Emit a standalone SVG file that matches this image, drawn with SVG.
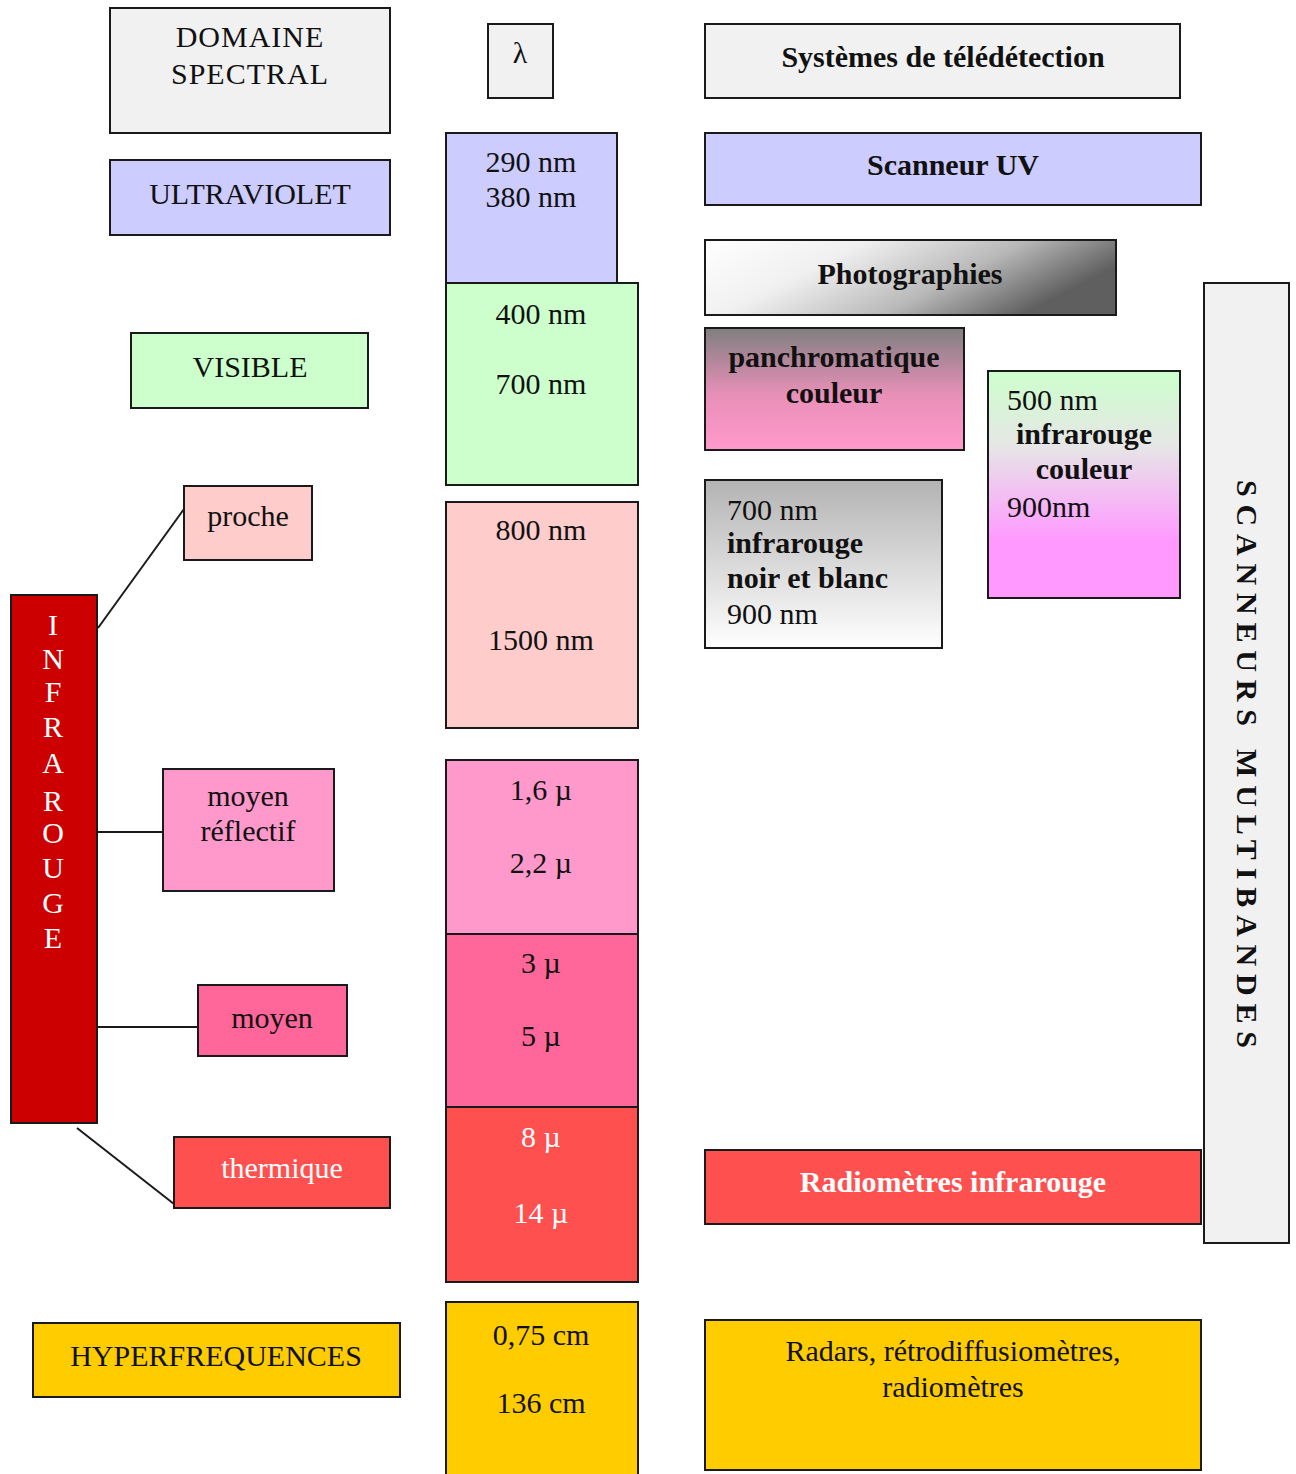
<svg xmlns="http://www.w3.org/2000/svg" width="1296" height="1474" viewBox="0 0 1296 1474">
<style>
  .box { stroke: #1a1a1a; stroke-width: 2; }
  text { font-family: "Liberation Serif", "Times New Roman", serif; font-size: 30px; fill: #111; }
  .c { text-anchor: middle; }
  .b { font-weight: bold; }
  .w { fill: #ffffff; }
  .link { stroke: #1a1a1a; stroke-width: 2; fill: none; }
  .marble { fill: #f1f1f1; }
  .uv { fill: #ccccff; }
  .vis { fill: #ccffcc; }
  .pir { fill: #ffcccc; }
  .mir { fill: #ff99cc; }
  .mid { fill: #ff6699; }
  .thr { fill: #ff5050; }
  .hyp { fill: #ffcc00; }
  .ir { fill: #cc0000; }
</style>
<defs>
  <linearGradient id="gPhoto" x1="0" y1="0" x2="1" y2="0.35">
    <stop offset="0" stop-color="#ffffff"/>
    <stop offset="0.35" stop-color="#f0f0f0"/>
    <stop offset="0.7" stop-color="#b8b8b8"/>
    <stop offset="1" stop-color="#5f5f5f"/>
  </linearGradient>
  <linearGradient id="gPan" x1="0" y1="0" x2="0" y2="1">
    <stop offset="0" stop-color="#7f7f7f"/>
    <stop offset="0.55" stop-color="#e890b8"/>
    <stop offset="1" stop-color="#ff99cc"/>
  </linearGradient>
  <linearGradient id="gIRC" x1="0" y1="0" x2="0" y2="1">
    <stop offset="0" stop-color="#ccffcc"/>
    <stop offset="0.33" stop-color="#e6e6e6"/>
    <stop offset="0.75" stop-color="#ff99ff"/>
    <stop offset="1" stop-color="#ff99ff"/>
  </linearGradient>
  <linearGradient id="gNB" x1="0" y1="0" x2="0" y2="1">
    <stop offset="0" stop-color="#b3b3b3"/>
    <stop offset="1" stop-color="#ffffff"/>
  </linearGradient>
</defs>
<rect width="1296" height="1474" fill="#ffffff"/>

<g id="connectors">
  <line class="link" x1="98" y1="628" x2="184" y2="509"/>
  <line class="link" x1="98" y1="832" x2="163" y2="832"/>
  <line class="link" x1="98" y1="1027" x2="198" y2="1027"/>
  <line class="link" x1="77" y1="1128" x2="174" y2="1204"/>
</g>

<g id="domaine-spectral">
  <rect class="box marble" x="110" y="8" width="280" height="125"/>
  <text class="c" x="250" y="47" letter-spacing="1">DOMAINE</text>
  <text class="c" x="250" y="84" letter-spacing="1">SPECTRAL</text>
</g>
<g id="lambda">
  <rect class="box marble" x="488" y="24" width="65" height="74"/>
  <text class="c" x="520" y="63" font-size="26">λ</text>
</g>
<g id="systemes">
  <rect class="box marble" x="705" y="24" width="475" height="74"/>
  <text class="c b" x="943" y="67">Systèmes de télédétection</text>
</g>

<g id="ultraviolet">
  <rect class="box uv" x="110" y="160" width="280" height="75"/>
  <text class="c" x="250" y="204">ULTRAVIOLET</text>
</g>
<g id="lambda-uv">
  <rect class="box uv" x="446" y="133" width="171" height="150"/>
  <text class="c" x="531" y="172">290 nm</text>
  <text class="c" x="531" y="207">380 nm</text>
</g>
<g id="scanneur-uv">
  <rect class="box uv" x="705" y="133" width="496" height="72"/>
  <text class="c b" x="953" y="175">Scanneur UV</text>
</g>

<g id="photographies">
  <rect class="box" fill="url(#gPhoto)" x="705" y="240" width="411" height="75"/>
  <text class="c b" x="910" y="284">Photographies</text>
</g>

<g id="visible">
  <rect class="box vis" x="131" y="333" width="237" height="75"/>
  <text class="c" x="250" y="377">VISIBLE</text>
</g>
<g id="lambda-visible">
  <rect class="box vis" x="446" y="283" width="192" height="202"/>
  <text class="c" x="541" y="324">400 nm</text>
  <text class="c" x="541" y="394">700 nm</text>
</g>

<g id="panchromatique">
  <rect class="box" fill="url(#gPan)" x="705" y="328" width="259" height="122"/>
  <text class="c b" x="834" y="367">panchromatique</text>
  <text class="c b" x="834" y="403">couleur</text>
</g>

<g id="infrarouge-couleur">
  <rect class="box" fill="url(#gIRC)" x="988" y="371" width="192" height="227"/>
  <text x="1007" y="410">500 nm</text>
  <text class="c b" x="1084" y="444">infrarouge</text>
  <text class="c b" x="1084" y="479">couleur</text>
  <text x="1007" y="517">900nm</text>
</g>

<g id="infrarouge-nb">
  <rect class="box" fill="url(#gNB)" x="705" y="480" width="237" height="168"/>
  <text x="727" y="520">700 nm</text>
  <text class="b" x="727" y="553">infrarouge</text>
  <text class="b" x="727" y="588">noir et blanc</text>
  <text x="727" y="624">900 nm</text>
</g>

<g id="scanneurs-multibandes">
  <rect class="box marble" x="1204" y="283" width="85" height="960"/>
  <text class="c b" x="0" y="0" font-size="26" dominant-baseline="central" textLength="568" lengthAdjust="spacing" transform="translate(1247 764) rotate(90)">SCANNEURS MULTIBANDES</text>
</g>

<g id="infrarouge">
  <rect class="box ir" x="11" y="595" width="86" height="528"/>
  <g class="c w" font-size="27">
    <text class="c w" x="53" y="635" font-size="27">I</text>
    <text class="c w" x="53" y="669" font-size="27">N</text>
    <text class="c w" x="53" y="702" font-size="27">F</text>
    <text class="c w" x="53" y="737" font-size="27">R</text>
    <text class="c w" x="53" y="773" font-size="27">A</text>
    <text class="c w" x="53" y="811" font-size="27">R</text>
    <text class="c w" x="53" y="843" font-size="27">O</text>
    <text class="c w" x="53" y="878" font-size="27">U</text>
    <text class="c w" x="53" y="913" font-size="27">G</text>
    <text class="c w" x="53" y="948" font-size="27">E</text>
  </g>
</g>

<g id="proche">
  <rect class="box pir" x="184" y="486" width="128" height="74"/>
  <text class="c" x="248" y="526">proche</text>
</g>
<g id="lambda-proche">
  <rect class="box pir" x="446" y="502" width="192" height="226"/>
  <text class="c" x="541" y="540">800 nm</text>
  <text class="c" x="541" y="650">1500 nm</text>
</g>

<g id="moyen-reflectif">
  <rect class="box mir" x="163" y="769" width="171" height="122"/>
  <text class="c" x="248" y="806">moyen</text>
  <text class="c" x="248" y="841">réflectif</text>
</g>
<g id="lambda-moyen-reflectif">
  <rect class="box mir" x="446" y="760" width="192" height="174"/>
  <text class="c" x="541" y="800">1,6 µ</text>
  <text class="c" x="541" y="873">2,2 µ</text>
</g>

<g id="moyen">
  <rect class="box mid" x="198" y="985" width="149" height="71"/>
  <text class="c" x="272" y="1028">moyen</text>
</g>
<g id="lambda-moyen">
  <rect class="box mid" x="446" y="934" width="192" height="173"/>
  <text class="c" x="541" y="973">3 µ</text>
  <text class="c" x="541" y="1046">5 µ</text>
</g>

<g id="thermique">
  <rect class="box thr" x="174" y="1137" width="216" height="71"/>
  <text class="c w" x="282" y="1178">thermique</text>
</g>
<g id="lambda-thermique">
  <rect class="box thr" x="446" y="1107" width="192" height="175"/>
  <text class="c w" x="541" y="1147">8 µ</text>
  <text class="c w" x="541" y="1223">14 µ</text>
</g>
<g id="radiometres-infrarouge">
  <rect class="box thr" x="705" y="1150" width="496" height="74"/>
  <text class="c b w" x="953" y="1192">Radiomètres infrarouge</text>
</g>

<g id="hyperfrequences">
  <rect class="box hyp" x="33" y="1323" width="367" height="74"/>
  <text class="c" x="216" y="1366">HYPERFREQUENCES</text>
</g>
<g id="lambda-hyper">
  <rect class="box hyp" x="446" y="1302" width="192" height="176"/>
  <text class="c" x="541" y="1345">0,75 cm</text>
  <text class="c" x="541" y="1413">136 cm</text>
</g>
<g id="radars">
  <rect class="box hyp" x="705" y="1320" width="496" height="150"/>
  <text class="c" x="953" y="1361">Radars, rétrodiffusiomètres,</text>
  <text class="c" x="953" y="1397">radiomètres</text>
</g>
</svg>
